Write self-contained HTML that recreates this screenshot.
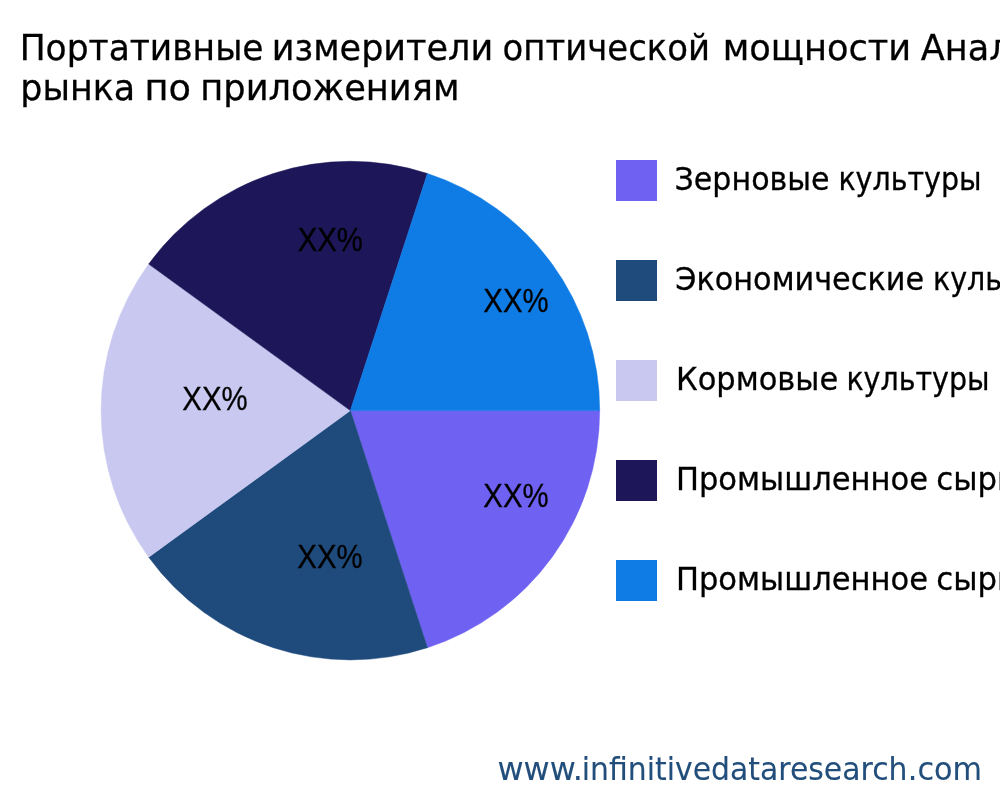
<!DOCTYPE html>
<html lang="ru">
<head>
<meta charset="utf-8">
<title>Портативные измерители оптической мощности Анализ рынка по приложениям</title>
<style>
html,body{margin:0;padding:0;background:#fff;}
body{width:1000px;height:800px;overflow:hidden;position:relative;font-family:"DejaVu Sans","Liberation Sans",sans-serif;}
svg{position:absolute;left:0;top:0;display:block;}
text{font-family:"DejaVu Sans","Liberation Sans",sans-serif;fill:#000;stroke:#000;stroke-width:0.3px;}
.title{font-size:36px;}
.leg{font-size:31.5px;}
.lab text{font-family:"Liberation Sans",sans-serif;font-size:33px;}
.url{font-size:32px;fill:#224e7b;stroke:#224e7b;stroke-width:0.1px;}
</style>
</head>
<body>
<svg width="1000" height="800" viewBox="0 0 1000 800">
<rect width="1000" height="800" fill="#fff"/>
<g class="title">
<text y="60"><tspan x="19.65" textLength="243.94" lengthAdjust="spacingAndGlyphs">Портативные</tspan> <tspan x="271.84" textLength="221.31" lengthAdjust="spacingAndGlyphs">измерители</tspan> <tspan x="502.62" textLength="207.50" lengthAdjust="spacingAndGlyphs">оптической</tspan> <tspan x="722.82" textLength="188.41" lengthAdjust="spacingAndGlyphs">мощности</tspan> <tspan x="920.76" textLength="132.21" lengthAdjust="spacingAndGlyphs">Анализ</tspan></text>
<text y="99.8"><tspan x="20.36" textLength="114.78" lengthAdjust="spacingAndGlyphs">рынка</tspan> <tspan x="144.48" textLength="46.49" lengthAdjust="spacingAndGlyphs">по</tspan> <tspan x="200.32" textLength="259.13" lengthAdjust="spacingAndGlyphs">приложениям</tspan></text>
</g>
<g id="pie">
<path d="M350.4,410.6 L599.70,410.60 A249.3,249.3 0 0 1 427.44,647.70 Z" fill="#6f62f2" stroke="#6f62f2" stroke-width="0.5"/>
<path d="M350.4,410.6 L427.44,647.70 A249.3,249.3 0 0 1 148.71,557.13 Z" fill="#1f4b7c" stroke="#1f4b7c" stroke-width="0.5"/>
<path d="M350.4,410.6 L148.71,557.13 A249.3,249.3 0 0 1 148.71,264.07 Z" fill="#c8c8f0" stroke="#c8c8f0" stroke-width="0.5"/>
<path d="M350.4,410.6 L148.71,264.07 A249.3,249.3 0 0 1 427.44,173.50 Z" fill="#1d1658" stroke="#1d1658" stroke-width="0.5"/>
<path d="M350.4,410.6 L427.44,173.50 A249.3,249.3 0 0 1 599.70,410.60 Z" fill="#0f7be4" stroke="#0f7be4" stroke-width="0.5"/>
</g>
<g class="lab">
<text x="483.33" y="506.8" textLength="65.27" lengthAdjust="spacingAndGlyphs">XX%</text>
<text x="297.33" y="568" textLength="65.27" lengthAdjust="spacingAndGlyphs">XX%</text>
<text x="182.33" y="409.8" textLength="65.27" lengthAdjust="spacingAndGlyphs">XX%</text>
<text x="297.63" y="250.8" textLength="65.27" lengthAdjust="spacingAndGlyphs">XX%</text>
<text x="483.33" y="311.5" textLength="65.27" lengthAdjust="spacingAndGlyphs">XX%</text>
</g>
<g id="swatches">
<rect x="616" y="160" width="41" height="41" fill="#6f62f2"/>
<rect x="616" y="260" width="41" height="41" fill="#1f4b7c"/>
<rect x="616" y="360" width="41" height="41" fill="#c8c8f0"/>
<rect x="616" y="460" width="41" height="41" fill="#1d1658"/>
<rect x="616" y="560" width="41" height="41" fill="#0f7be4"/>
</g>
<g class="leg">
<text y="190.2"><tspan x="674.57" textLength="154.98" lengthAdjust="spacingAndGlyphs">Зерновые</tspan> <tspan x="838.40" textLength="143.18" lengthAdjust="spacingAndGlyphs">культуры</tspan></text>
<text y="290.2"><tspan x="675.32" textLength="248.73" lengthAdjust="spacingAndGlyphs">Экономические</tspan> <tspan x="933.00" textLength="143.18" lengthAdjust="spacingAndGlyphs">культуры</tspan></text>
<text y="390.2"><tspan x="675.97" textLength="162.20" lengthAdjust="spacingAndGlyphs">Кормовые</tspan> <tspan x="846.40" textLength="143.18" lengthAdjust="spacingAndGlyphs">культуры</tspan></text>
<text y="490.2"><tspan x="675.97" textLength="252.03" lengthAdjust="spacingAndGlyphs">Промышленное</tspan> <tspan x="936.29" textLength="97.66" lengthAdjust="spacingAndGlyphs">сырье</tspan></text>
<text y="590.2"><tspan x="675.97" textLength="252.03" lengthAdjust="spacingAndGlyphs">Промышленное</tspan> <tspan x="936.29" textLength="97.66" lengthAdjust="spacingAndGlyphs">сырье</tspan></text>
</g>
<text class="url" y="780"><tspan x="497.38" textLength="85.62" lengthAdjust="spacingAndGlyphs">www.</tspan><tspan x="581.70" textLength="325.82" lengthAdjust="spacingAndGlyphs">infinitivedataresearch</tspan><tspan x="907.81" textLength="74.31" lengthAdjust="spacingAndGlyphs">.com</tspan></text>
</svg>
</body>
</html>
